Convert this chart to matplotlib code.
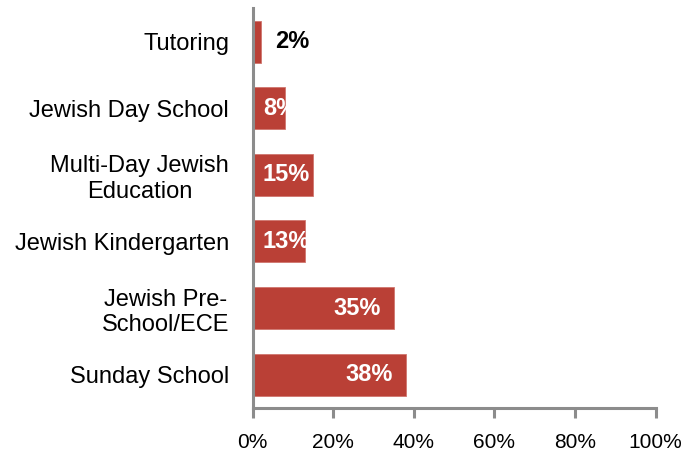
import numpy as np
import matplotlib.pyplot as plt
from matplotlib.ticker import PercentFormatter

plt.rcParams['font.family'] = ['Liberation Sans', 'DejaVu Sans']

# categories listed bottom to top
categories = ['Sunday School', 'Jewish Pre-\nSchool/ECE', 'Jewish Kindergarten',
              'Multi-Day Jewish\nEducation', 'Jewish Day School', 'Tutoring']
values = [38, 35, 13, 15, 8, 2]
xticks = [0, 20, 40, 60, 80, 100]

bar_color = '#BA4036'
axis_gray = '#8C8C8C'

fig = plt.figure(figsize=(6.83, 4.57), dpi=100)
ax = fig.add_axes([0.370, 0.107, 0.590, 0.875])

y = np.arange(len(categories))
ax.barh(y, values, height=0.63, color=bar_color, edgecolor='#D0766E', linewidth=0.6)

ax.set_xlim(0, 100)
ax.set_ylim(-0.5, len(categories) - 0.5)
ax.set_xticks(xticks)
ax.xaxis.set_major_formatter(PercentFormatter(decimals=0))
ax.set_yticks(y)
ax.set_yticklabels(categories, ma='center')

for side in ['top', 'right']:
    ax.spines[side].set_visible(False)
for side in ['left', 'bottom']:
    ax.spines[side].set_color(axis_gray)
    ax.spines[side].set_linewidth(2.2)

ax.tick_params(axis='x', direction='out', length=7, width=2.2, color=axis_gray,
               labelsize=15, pad=11)
ax.tick_params(axis='y', length=0, labelsize=17, pad=17)

# value labels: white inside the bar, black outside when the bar is too short
for yi, v in zip(y, values):
    if v < 5:
        ax.text(v + 3.5, yi, f'{v}%', color='black', fontsize=17, fontweight='bold',
                ha='left', va='center')
    else:
        t = ax.text(max(v - 15, 2.5), yi, f'{v}%', color='white', fontsize=17,
                    fontweight='bold', ha='left', va='center')
        # keep the white text inside its bar
        t.set_clip_on(True)

fig.savefig('out.png', dpi=100)
